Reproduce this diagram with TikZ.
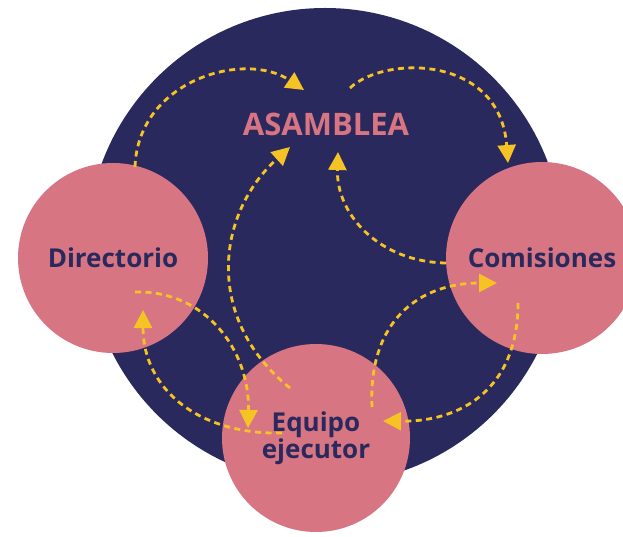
\documentclass[tikz,border=0pt]{standalone}
\usepackage{fontspec}
\setmainfont{Open Sans}
\usetikzlibrary{arrows.meta}
\definecolor{navy}{HTML}{2A295E}
\definecolor{rose}{HTML}{D77583}
\definecolor{gold}{HTML}{F6C325}
\tikzset{
  bubble/.style={circle, fill=rose, minimum size=190pt, inner sep=0pt, text=navy,
    font=\bfseries\fontsize{26}{24}\selectfont, align=center},
  linkarrow/.style={gold, line width=2.8pt, dash pattern=on 6pt off 4.5pt,
    -{Triangle[length=18pt,width=18pt]}}
}
\begin{document}
\begin{tikzpicture}[x=1pt,y=-1pt]
\useasboundingbox (0,0) rectangle (623,537);
\clip (0,0) rectangle (623,537);
\node[circle, fill=navy, minimum size=476pt, inner sep=0pt] (hall) at (325,246) {}; %big dark circle
\node[text=rose, font=\bfseries\fontsize{31}{31}\selectfont] (asm) at (326,124) {ASAMBLEA}; %title
\node[bubble] (dir) at (113,258) {Directorio}; %left circle
\node[bubble, minimum size=192pt] (com) at (542,258) {Comisiones}; %right circle
\node[bubble, minimum size=188pt] (eq) at (316,438) {Equipo\\ejecutor}; %bottom circle
% end points of the arrows
\coordinate (d1) at (135,167); \coordinate (a1) at (304,90);
\coordinate (a2) at (350,88);  \coordinate (c1) at (508,163);
\coordinate (e1) at (290,388); \coordinate (a3) at (290,147);
\coordinate (c2) at (446,263); \coordinate (a4) at (338,152);
\coordinate (d2) at (135,292); \coordinate (e2) at (248,428);
\coordinate (e3) at (282,433); \coordinate (d3) at (143,310);
\coordinate (e4) at (372,407); \coordinate (c3) at (497,283);
\coordinate (c4) at (518,303); \coordinate (e5) at (383,421);
\draw[linkarrow] (d1) .. controls (138,80) and (245,50) .. (a1); %Directorio to Asamblea
\draw[linkarrow] (a2) .. controls (385,55) and (500,55) .. (c1); %Asamblea to Comisiones
\draw[linkarrow] (e1) .. controls (205,320) and (215,215) .. (a3); %Equipo to Asamblea
\draw[linkarrow] (c2) .. controls (380,262) and (336,215) .. (a4); %Comisiones to Asamblea
\draw[linkarrow] (d2) .. controls (205,290) and (250,350) .. (e2); %Directorio to Equipo
\draw[linkarrow] (e3) .. controls (200,435) and (143,390) .. (d3); %Equipo to Directorio
\draw[linkarrow] (e4) .. controls (368,320) and (420,283) .. (c3); %Equipo to Comisiones
\draw[linkarrow] (c4) .. controls (518,390) and (460,422) .. (e5); %Comisiones to Equipo
\end{tikzpicture}
\end{document}
